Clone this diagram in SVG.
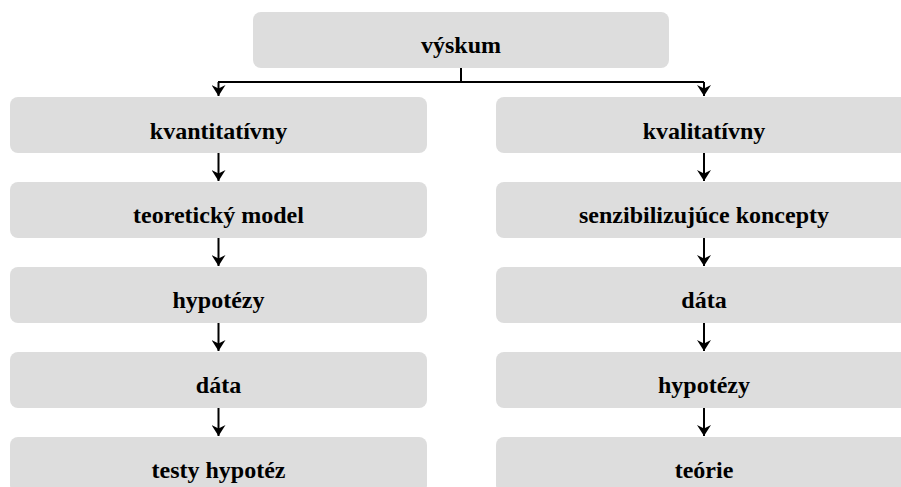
<svg xmlns="http://www.w3.org/2000/svg" width="901" height="487" viewBox="0 0 901 487">
<defs>
<style>
.box{fill:#dddddd;}
.lbl{font-weight:bold;font-size:24px;fill:#000;text-anchor:middle;}
.ln{stroke:#000;stroke-width:2;fill:none;}
</style>
<marker id="ah" markerWidth="14" markerHeight="11" refX="7" refY="11" orient="0" markerUnits="userSpaceOnUse">
<path d="M0,0 L7,3.5 L14,0 L7,11 Z" fill="#000"/>
</marker>
</defs>
<rect width="901" height="487" fill="#fff"/>
<g id="connectors">
<path class="ln" d="M461,68 V82"/>
<path class="ln" d="M218,82 H704"/>
<path class="ln" d="M218.5,82 V96" marker-end="url(#ah)"/>
<path class="ln" d="M704,82 V96" marker-end="url(#ah)"/>
<path class="ln" d="M218.5,153 V181" marker-end="url(#ah)"/>
<path class="ln" d="M218.5,238 V266" marker-end="url(#ah)"/>
<path class="ln" d="M218.5,323 V351" marker-end="url(#ah)"/>
<path class="ln" d="M218.5,408 V436" marker-end="url(#ah)"/>
<path class="ln" d="M704,153 V181" marker-end="url(#ah)"/>
<path class="ln" d="M704,238 V266" marker-end="url(#ah)"/>
<path class="ln" d="M704,323 V351" marker-end="url(#ah)"/>
<path class="ln" d="M704,408 V436" marker-end="url(#ah)"/>
</g>
<g font-family="'Liberation Serif', 'Times New Roman', serif">
<g id="n_vyskum"><rect class="box" x="253" y="12" width="416" height="56" rx="8"/><text class="lbl" x="461" y="53">výskum</text></g>
<g id="n_kvant"><rect class="box" x="10" y="97" width="417" height="56" rx="8"/><text class="lbl" x="218.5" y="139">kvantitatívny</text></g>
<g id="n_teor"><rect class="box" x="10" y="182" width="417" height="56" rx="8"/><text class="lbl" x="218.5" y="223">teoretický model</text></g>
<g id="n_hyp1"><rect class="box" x="10" y="267" width="417" height="56" rx="8"/><text class="lbl" x="218.5" y="308">hypotézy</text></g>
<g id="n_data1"><rect class="box" x="10" y="352" width="417" height="56" rx="8"/><text class="lbl" x="218.5" y="393">dáta</text></g>
<g id="n_testy"><rect class="box" x="10" y="437" width="417" height="56" rx="8"/><text class="lbl" x="218.5" y="478">testy hypotéz</text></g>
<g id="n_kval"><rect class="box" x="496" y="97" width="417" height="56" rx="8"/><text class="lbl" x="704" y="139">kvalitatívny</text></g>
<g id="n_senz"><rect class="box" x="496" y="182" width="417" height="56" rx="8"/><text class="lbl" x="704" y="223">senzibilizujúce koncepty</text></g>
<g id="n_data2"><rect class="box" x="496" y="267" width="417" height="56" rx="8"/><text class="lbl" x="704" y="308">dáta</text></g>
<g id="n_hyp2"><rect class="box" x="496" y="352" width="417" height="56" rx="8"/><text class="lbl" x="704" y="393">hypotézy</text></g>
<g id="n_teorie"><rect class="box" x="496" y="437" width="417" height="56" rx="8"/><text class="lbl" x="704" y="478">teórie</text></g>
</g>
</svg>
